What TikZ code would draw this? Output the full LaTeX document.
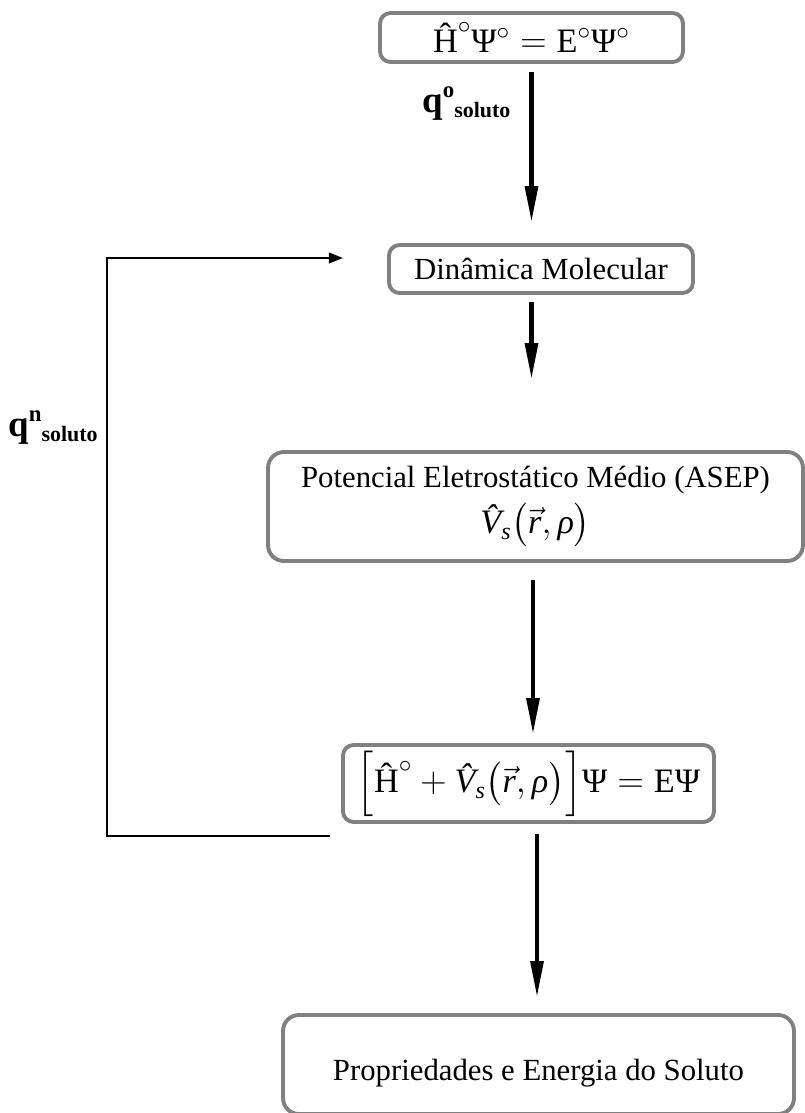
\documentclass[tikz,border=0pt]{standalone}
\usepackage{fontspec}
\setmainfont{Liberation Serif}
\usepackage{amsmath}
\usetikzlibrary{arrows.meta, positioning, calc}
\definecolor{boxGray}{HTML}{808080}

\newcommand{\eqsize}{\fontsize{19.5}{24}\selectfont}
\newcommand{\Hop}{\mbox{\^{H}}}
\newcommand{\Vop}{\mbox{\itshape\^{V}}}
\newcommand{\rvec}{\vec{\mbox{\itshape r}}}
\newcommand{\rhoi}{\mbox{\itshape ρ}}
\newcommand{\Psii}{\mbox{Ψ}}
\newcommand{\sidx}{\text{\itshape s}}
\newcommand{\qlab}[1]{{\fontsize{21}{21}\selectfont q}\raisebox{8pt}{\fontsize{13}{13}\selectfont #1}\raisebox{-3pt}{\fontsize{12.5}{13}\selectfont soluto}}

\begin{document}
\begin{tikzpicture}[
    x=0.02cm, y=-0.02cm,
    stage/.style={draw=boxGray, line width=2.2pt, rounded corners=6pt,
                  inner sep=0pt, align=center, font=\fontsize{17.5}{22}\selectfont},
    flow/.style={-{Triangle[length=21pt, width=7pt]}, line width=2.8pt},
    loop/.style={-{Triangle[length=8pt, width=6pt]}, line width=1.1pt},
    qlabel/.style={font=\bfseries, inner sep=0pt, anchor=base west},
]
\useasboundingbox (0,0) rectangle (805,1113);

% Stages
\node[stage, minimum width=6.06cm, minimum height=0.98cm] (eqzero) at (531.5,37.5)
    {\eqsize$\Hop^{\circ}\Psii^{\circ} = \mbox{E}^{\circ}\Psii^{\circ}$};
\node[stage, minimum width=6.08cm, minimum height=0.96cm] (dm) at (541,269)
    {Dinâmica Molecular};
\node[stage, rounded corners=9pt, minimum width=10.7cm, minimum height=2.18cm] (asep) at (535.5,506.5)
    {Potencial Eletrostático Médio (ASEP)\\[4pt]
     \eqsize$\Vop_{\sidx}\bigl(\rvec,\rhoi\bigr)$};
\node[stage, minimum width=7.42cm, minimum height=1.54cm] (eqsolv) at (528.5,783.5)
    {\eqsize$\Bigl[\Hop^{\circ} + \Vop_{\sidx}\bigl(\rvec,\rhoi\bigr)\Bigr]\Psii = \mbox{E}\Psii$};
\node[stage, rounded corners=9pt, minimum width=10.22cm, minimum height=1.98cm] (prop) at (538.5,1064.5)
    {\raisebox{-0.18cm}[\height][\depth]{Propriedades e Energia do Soluto}};

% Flow arrows
\draw[flow, shorten <=0.16cm, shorten >=0.4cm] (eqzero.south) -- (eqzero.south |- dm.north);
\draw[flow, shorten <=0.14cm, shorten >=1.4cm] (eqzero.south |- dm.south) -- (eqzero.south |- asep.north);
\draw[flow, shorten <=0.34cm, shorten >=0.16cm] ([xshift=-0.05cm]asep.south) -- ([xshift=-0.05cm]asep.south |- eqsolv.north);
\draw[flow, shorten <=0.2cm, shorten >=0.3cm] ([xshift=-0.03cm]prop.north |- eqsolv.south) -- ([xshift=-0.03cm]prop.north);

% Feedback loop
\coordinate (fbstart) at (330,836);
\coordinate (fbend) at (343,258);
\draw[loop] (fbstart) -- ++(-223,0) |- (fbend);

% Labels
\node[qlabel] (qo) at (422,112) {\qlab{o}};
\node[qlabel] (qn) at (8,436) {\qlab{n}};
\end{tikzpicture}
\end{document}
